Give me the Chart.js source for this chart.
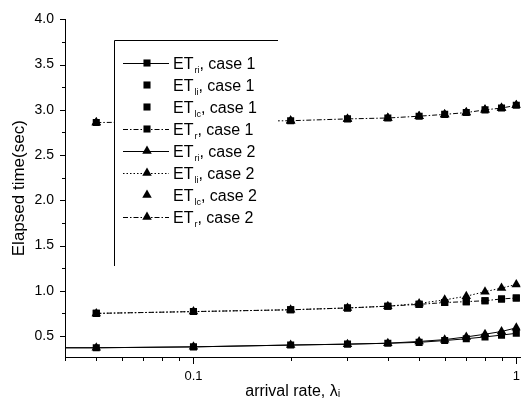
<!DOCTYPE html>
<html>
<head>
<meta charset="utf-8">
<title>Elapsed time vs arrival rate</title>
<script src="https://cdn.jsdelivr.net/npm/chart.js@4.4.0/dist/chart.umd.min.js"></script>
<style>
  html, body { margin: 0; padding: 0; background: #fff; }
</style>
</head>
<body>
<canvas id="elapsedChart" width="532" height="401"></canvas>
<script>
// arrival rates (x) and elapsed times (sec)
const arrivalRates = [0.05, 0.1, 0.2, 0.3, 0.4, 0.5, 0.6, 0.7, 0.8, 0.9, 1.0];
// the solid ET_ri lines run flat in from the left edge
const leadRate = 0.03;
const leadTime = 0.37;

const etRiCase1 = [0.37, 0.38, 0.40, 0.41, 0.42, 0.43, 0.45, 0.47, 0.49, 0.51, 0.53];
const etLiCase1 = [0.75, 0.77, 0.79, 0.81, 0.83, 0.85, 0.87, 0.88, 0.89, 0.91, 0.92];
const etLcCase1 = [2.86, 2.87, 2.88, 2.90, 2.91, 2.93, 2.95, 2.97, 3.00, 3.02, 3.05];
const etRCase1  = [0.75, 0.77, 0.79, 0.81, 0.83, 0.85, 0.87, 0.88, 0.89, 0.91, 0.92];
const etRiCase2 = [0.37, 0.38, 0.40, 0.41, 0.42, 0.44, 0.46, 0.49, 0.52, 0.55, 0.59];
const etLiCase2 = [0.75, 0.77, 0.79, 0.81, 0.83, 0.86, 0.90, 0.94, 0.99, 1.03, 1.07];
const etLcCase2 = [2.86, 2.87, 2.88, 2.90, 2.91, 2.93, 2.95, 2.97, 3.00, 3.02, 3.05];
const etRCase2  = [2.86, 2.87, 2.88, 2.90, 2.91, 2.93, 2.95, 2.97, 3.00, 3.02, 3.05];

const yTicks = [0.5, 1.0, 1.5, 2.0, 2.5, 3.0, 3.5, 4.0];
const xTicks = [0.04, 0.05, 0.06, 0.07, 0.08, 0.09, 0.1, 0.2, 0.3, 0.4, 0.5, 0.6, 0.7, 0.8, 0.9, 1];
const xLabelled = [0.1, 1];

const toPoints = (ys, lead) => {
  const pts = ys.map((y, i) => ({ x: arrivalRates[i], y: y }));
  if (lead) pts.unshift({ x: leadRate, y: leadTime });
  return pts;
};

const DOTTED = [1.5, 2];
const DASHDOT = [5, 2, 1.5, 2];

function series(sub, caseNo, ys, style, line, dash, lead) {
  return {
    label: 'ET' + sub + ', case ' + caseNo,
    sub: sub,
    caseNo: caseNo,
    data: toPoints(ys, lead),
    showLine: line,
    borderColor: '#000',
    borderWidth: 1,
    borderDash: dash || [],
    backgroundColor: '#000',
    pointStyle: style,
    pointRadius: style === 'triangle' ? 5.5 : 5,
    pointBorderWidth: 0,
    pointBackgroundColor: '#000',
    tension: 0
  };
}

const datasets = [
  series('ri', 1, etRiCase1, 'rect', true, null, true),
  series('li', 1, etLiCase1, 'rect', false),
  series('lc', 1, etLcCase1, 'rect', false),
  series('r', 1, etRCase1, 'rect', true, DASHDOT),
  series('ri', 2, etRiCase2, 'triangle', true, null, true),
  series('li', 2, etLiCase2, 'triangle', true, DOTTED),
  series('lc', 2, etLcCase2, 'triangle', false),
  series('r', 2, etRCase2, 'triangle', true, DASHDOT)
];

const FONT = "'Liberation Sans', Arial, sans-serif";

// legend drawn as an opaque box sitting over the plot
const boxLegend = {
  id: 'boxLegend',
  afterDatasetsDraw(chart) {
    const ctx = chart.ctx;
    const L = 114, T = 40, R = 278, B = 266;
    ctx.save();
    ctx.fillStyle = '#fff';
    ctx.fillRect(L, T, R - L, B - T);
    ctx.strokeStyle = '#000';
    ctx.lineWidth = 1;
    ctx.beginPath();
    ctx.moveTo(L + 0.5, B);
    ctx.lineTo(L + 0.5, T + 0.5);
    ctx.lineTo(R, T + 0.5);
    ctx.stroke();

    chart.data.datasets.forEach((ds, i) => {
      const y = 63 + i * 22;
      if (ds.showLine) {
        ctx.setLineDash(ds.borderDash);
        ctx.beginPath();
        ctx.moveTo(123, y + 0.5);
        ctx.lineTo(169, y + 0.5);
        ctx.stroke();
        ctx.setLineDash([]);
      }
      ctx.fillStyle = '#000';
      Chart.helpers.drawPoint(ctx, {
        pointStyle: ds.pointStyle, radius: ds.pointRadius, rotation: 0, borderWidth: 0
      }, 147, y);

      ctx.textBaseline = 'alphabetic';
      ctx.textAlign = 'left';
      let x = 173;
      ctx.font = '16px ' + FONT;
      ctx.fillText('ET', x, y + 6);
      x += ctx.measureText('ET').width + 1;
      ctx.font = '9px ' + FONT;
      ctx.fillText(ds.sub, x, y + 10);
      x += ctx.measureText(ds.sub).width;
      ctx.font = '16px ' + FONT;
      ctx.fillText(', case ' + ds.caseNo, x, y + 6);
    });
    ctx.restore();
  }
};

// outward major and minor tick marks on both axes
const axisTicks = {
  id: 'axisTicks',
  afterDraw(chart) {
    const ctx = chart.ctx;
    const xs = chart.scales.x, ys = chart.scales.y;
    const left = chart.chartArea.left, bottom = chart.chartArea.bottom;
    ctx.save();
    ctx.strokeStyle = '#000';
    ctx.lineWidth = 1;
    ctx.beginPath();
    yTicks.forEach(v => {
      const p = Math.round(ys.getPixelForValue(v)) + 0.5;
      ctx.moveTo(left - 5, p); ctx.lineTo(left, p);
      const m = v - 0.25;
      if (m > ys.min) {
        const q = Math.round(ys.getPixelForValue(m)) + 0.5;
        ctx.moveTo(left - 3, q); ctx.lineTo(left, q);
      }
    });
    xTicks.forEach(v => {
      const p = Math.round(xs.getPixelForValue(v)) + 0.5;
      const len = xLabelled.includes(v) ? 7 : 4;
      ctx.moveTo(p, bottom); ctx.lineTo(p, bottom + len);
    });
    ctx.stroke();
    ctx.restore();
  }
};

new Chart(document.getElementById('elapsedChart').getContext('2d'), {
  type: 'line',
  data: { datasets: datasets },
  options: {
    responsive: false,
    animation: false,
    events: [],
    layout: { padding: { top: 19, right: 10, left: 0, bottom: 0 } },
    plugins: {
      legend: { display: false },
      tooltip: { enabled: false }
    },
    scales: {
      x: {
        type: 'logarithmic',
        position: 'bottom',
        min: 0.04,
        max: 1.03,
        afterBuildTicks: s => { s.ticks = xTicks.map(v => ({ value: v })); },
        afterFit: s => { s.height = 44; },
        grid: { display: false, drawTicks: false },
        border: { display: true, color: '#000', width: 1 },
        ticks: {
          autoSkip: false,
          maxRotation: 0,
          padding: 12,
          color: '#000',
          font: { family: FONT, size: 13 },
          callback: v => (xLabelled.includes(v) ? String(v) : '')
        },
        title: {
          display: true,
          text: 'arrival rate, λ\u1d62',
          color: '#000',
          font: { family: FONT, size: 16 },
          padding: { top: 0, bottom: 0 }
        }
      },
      y: {
        min: 0.268,
        max: 4.0,
        afterBuildTicks: s => { s.ticks = yTicks.map(v => ({ value: v })); },
        afterFit: s => { s.width = 65; },
        grid: { display: false, drawTicks: false },
        border: { display: true, color: '#000', width: 1 },
        ticks: {
          padding: 11,
          color: '#000',
          font: { family: FONT, size: 14 },
          callback: v => v.toFixed(1)
        },
        title: {
          display: true,
          text: 'Elapsed time(sec)',
          color: '#000',
          font: { family: FONT, size: 17 },
          padding: { top: 9, bottom: 0 }
        }
      }
    }
  },
  plugins: [boxLegend, axisTicks]
});
</script>
</body>
</html>
